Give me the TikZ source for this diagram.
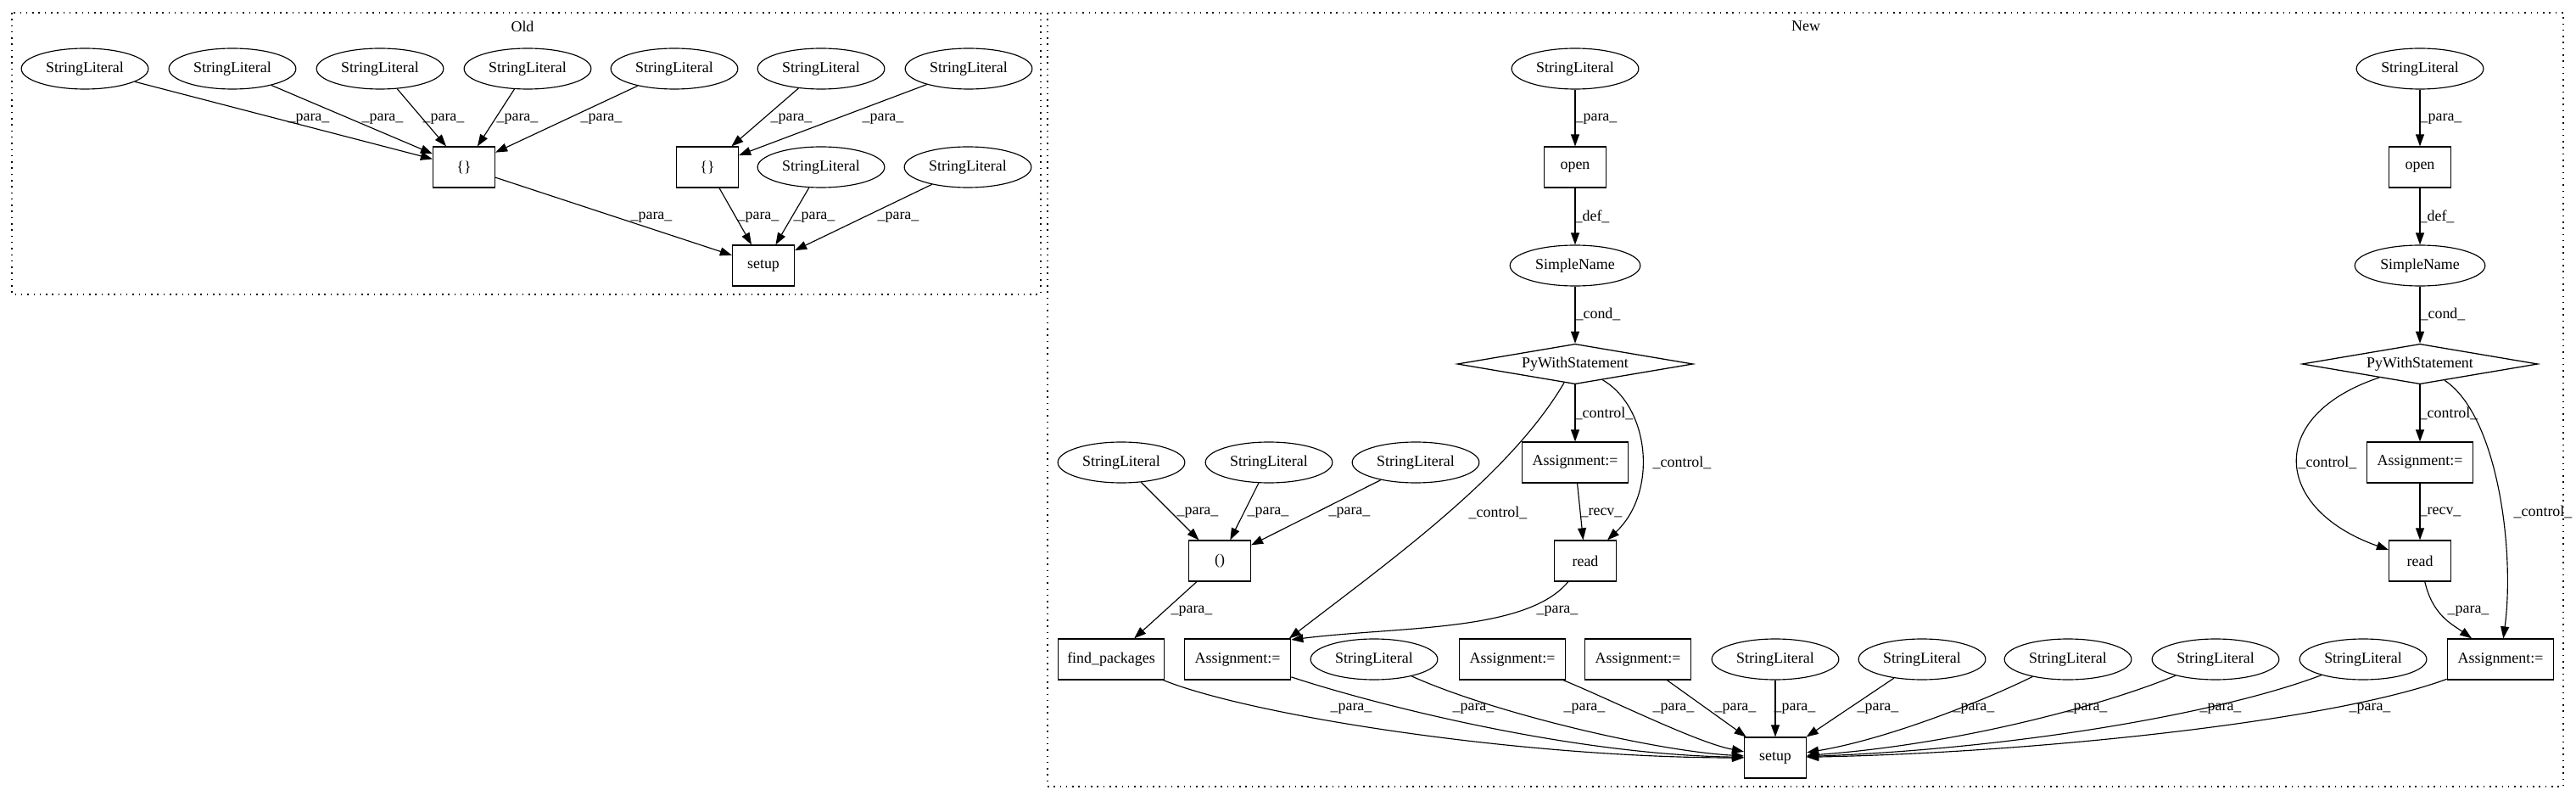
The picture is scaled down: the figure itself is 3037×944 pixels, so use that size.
\documentclass[tikz,border=0pt]{standalone}
\usepackage{fontspec}
\setmainfont{Liberation Serif}
\usetikzlibrary{shapes.geometric,arrows.meta}
\begin{document}
\begin{tikzpicture}[x=0.78125pt,y=-0.78125pt,
  font=\fontsize{14pt}{16pt}\selectfont,
  ell/.style={draw, ellipse, minimum width=117pt, minimum height=37.5pt, inner sep=0pt, line width=0.9pt},
  sn/.style={ell, minimum width=120pt},
  box/.style={draw, rectangle, minimum width=57pt, minimum height=37.5pt, inner sep=0pt, line width=0.9pt},
  wbox/.style={box, minimum width=98pt},
  dia/.style={draw, diamond, aspect=5.8, minimum width=217pt, minimum height=37pt, inner sep=0pt, line width=1pt},
  arr/.style={-{Triangle[length=11pt,width=7.8pt]}, line width=0.9pt},
  lab/.style={inner sep=0pt},
  clus/.style={draw, line width=1pt, dash pattern=on 1.2pt off 4.5pt}
]
\useasboundingbox (0,0) rectangle (3037,944);
% clusters
\draw[clus] (14,15) rectangle (1227,347);
\draw[clus] (1235,15) rectangle (3022,927);
\node[lab] (oldlab) at (616,31) {Old};
\node[lab] (newlab) at (2129,31) {New};

% ---------- Old ----------
\node[ell] (o1) at (100,81) {StringLiteral};
\node[ell] (o2) at (274,81) {StringLiteral};
\node[ell] (o3) at (448,81) {StringLiteral};
\node[ell] (o4) at (622,81) {StringLiteral};
\node[ell] (o5) at (795,81) {StringLiteral};
\node[ell] (o6) at (968,81) {StringLiteral};
\node[ell] (o7) at (1142,81) {StringLiteral};
\node[box] (ob1) at (547,197) {\{\}};
\node[box] (ob2) at (834,197) {\{\}};
\node[ell] (o8) at (968,197) {StringLiteral};
\node[ell] (o9) at (1141,197) {StringLiteral};
\node[box] (os) at (900,313) {setup};

\draw[arr] (o1) -- (ob1);
\draw[arr] (o2) -- (ob1);
\draw[arr] (o3) -- (ob1);
\draw[arr] (o4) -- (ob1);
\draw[arr] (o5) -- (ob1);
\draw[arr] (o6) -- (ob2);
\draw[arr] (o7) -- (ob2);
\draw[arr] (ob1) -- (os);
\draw[arr] (ob2) -- (os);
\draw[arr] (o8) -- (os);
\draw[arr] (o9) -- (os);

\node[lab] (ol1) at (364,140) {\_para\_};
\node[lab] (ol2) at (451,140) {\_para\_};
\node[lab] (ol3) at (523,140) {\_para\_};
\node[lab] (ol4) at (610,140) {\_para\_};
\node[lab] (ol5) at (709,140) {\_para\_};
\node[lab] (ol6) at (933,140) {\_para\_};
\node[lab] (ol7) at (1041,140) {\_para\_};
\node[lab] (ol8) at (768,256) {\_para\_};
\node[lab] (ol9) at (894,256) {\_para\_};
\node[lab] (ol10) at (960,256) {\_para\_};
\node[lab] (ol11) at (1059,256) {\_para\_};

% ---------- New ----------
\node[ell] (nsA) at (1857,81) {StringLiteral};
\node[box] (openA) at (1857,197) {open};
\node[sn] (snA) at (1857,313) {SimpleName};
\node[dia] (pwA) at (1857,429) {PyWithStatement};
\node[wbox] (aA1) at (1857,545) {Assignment:=};
\node[box] (readA) at (1869,661) {read};

\node[ell] (nsB) at (2853,81) {StringLiteral};
\node[box] (openB) at (2853,197) {open};
\node[sn] (snB) at (2853,313) {SimpleName};
\node[dia] (pwB) at (2853,429) {PyWithStatement};
\node[wbox] (aB1) at (2853,545) {Assignment:=};
\node[box] (readB) at (2853,661) {read};

\node[ell] (c1) at (1322,545) {StringLiteral};
\node[ell] (c2) at (1496,545) {StringLiteral};
\node[ell] (c3) at (1669,545) {StringLiteral};
\node[box] (par) at (1438,661) {()};

\node[wbox] (find) at (1310,777) {find\_packages};
\node[wbox] (aA2) at (1459,777) {Assignment:=};
\node[ell] (d1) at (1620,777) {StringLiteral};
\node[wbox] (aD2) at (1783,777) {Assignment:=};
\node[wbox] (aD3) at (1931,777) {Assignment:=};
\node[ell] (d4) at (2093,777) {StringLiteral};
\node[ell] (d5) at (2266,777) {StringLiteral};
\node[ell] (d6) at (2438,777) {StringLiteral};
\node[ell] (d7) at (2612,777) {StringLiteral};
\node[ell] (d8) at (2786,777) {StringLiteral};
\node[wbox] (aB2) at (2948,777) {Assignment:=};
\node[box] (setupN) at (2093,893) {setup};

% chains
\draw[arr] (nsA) -- (openA);
\draw[arr] (openA) -- (snA);
\draw[arr] (snA) -- (pwA);
\draw[arr] (pwA) -- (aA1);
\draw[arr] (aA1) -- (readA);
\draw[arr] (pwA) .. controls (1945,480) and (1955,580) .. (readA);
\draw[arr] (pwA) .. controls (1780,560) and (1640,660) .. (aA2.22);
\draw[arr] (readA) .. controls (1800,745) and (1650,738) .. (aA2.20);

\draw[arr] (nsB) -- (openB);
\draw[arr] (openB) -- (snB);
\draw[arr] (snB) -- (pwB);
\draw[arr] (pwB) -- (aB1);
\draw[arr] (aB1) -- (readB);
\draw[arr] (pwB) .. controls (2670,490) and (2680,600) .. (readB);
\draw[arr] (pwB) .. controls (2945,490) and (2965,650) .. (aB2);
\draw[arr] (readB) .. controls (2868,725) and (2890,735) .. (aB2);

\draw[arr] (c1) -- (par);
\draw[arr] (c2) -- (par);
\draw[arr] (c3) -- (par);
\draw[arr] (par) -- (find);

% into setup
\draw[arr] (find) .. controls (1480,845) and (1800,893) .. (setupN);
\draw[arr] (aA2) .. controls (1620,830) and (1850,889) .. (setupN);
\draw[arr] (d1) .. controls (1760,840) and (1950,885) .. (setupN);
\draw[arr] (aD2) .. controls (1900,825) and (2000,875) .. (setupN);
\draw[arr] (aD3) -- (setupN);
\draw[arr] (d4) -- (setupN);
\draw[arr] (d5) -- (setupN);
\draw[arr] (d6) .. controls (2330,830) and (2220,872) .. (setupN);
\draw[arr] (d7) .. controls (2470,835) and (2300,878) .. (setupN);
\draw[arr] (d8) .. controls (2620,840) and (2380,882) .. (setupN);
\draw[arr] (aB2) .. controls (2750,850) and (2400,887) .. (setupN);

% labels New
\node[lab] (l1) at (1882,140) {\_para\_};
\node[lab] (l2) at (1877,255) {\_def\_};
\node[lab] (l3) at (1884,370) {\_cond\_};
\node[lab] (l4) at (2878,140) {\_para\_};
\node[lab] (l5) at (2873,255) {\_def\_};
\node[lab] (l6) at (2880,370) {\_cond\_};
\node[lab] (l7) at (1891,487) {\_control\_};
\node[lab] (l8) at (1983,545) {\_control\_};
\node[lab] (l9) at (1888,604) {\_recv\_};
\node[lab] (l10) at (1766,604) {\_control\_};
\node[lab] (l11) at (1412,604) {\_para\_};
\node[lab] (l12) at (1495,604) {\_para\_};
\node[lab] (l13) at (1591,604) {\_para\_};
\node[lab] (l14) at (1405,720) {\_para\_};
\node[lab] (l15) at (1836,720) {\_para\_};
\node[lab] (l16) at (2887,487) {\_control\_};
\node[lab] (l17) at (2744,545) {\_control\_};
\node[lab] (l18) at (2877,603) {\_recv\_};
\node[lab] (l19) at (2998,603) {\_control\_};
\node[lab] (l20) at (2910,720) {\_para\_};
\node[lab] (b1) at (1593,835) {\_para\_};
\node[lab] (b2) at (1737,835) {\_para\_};
\node[lab] (b3) at (1868,835) {\_para\_};
\node[lab] (b4) at (1973,835) {\_para\_};
\node[lab] (b5) at (2046,835) {\_para\_};
\node[lab] (b6) at (2116,835) {\_para\_};
\node[lab] (b7) at (2214,835) {\_para\_};
\node[lab] (b8) at (2327,835) {\_para\_};
\node[lab] (b9) at (2460,835) {\_para\_};
\node[lab] (b10) at (2618,835) {\_para\_};
\node[lab] (b11) at (2794,835) {\_para\_};
\end{tikzpicture}
\end{document}
